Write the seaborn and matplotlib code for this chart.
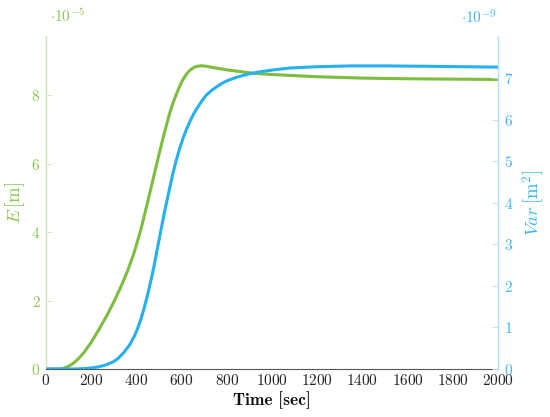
import matplotlib
matplotlib.use("Agg")
import matplotlib.pyplot as plt
import seaborn as sns
import numpy as np

# Data (E in units of 1e-5 m, Var in units of 1e-9 m^2)
t_E = [0, 60, 75, 90, 108, 125, 145, 170, 200, 233, 270, 300, 330, 360, 390, 420,
       448, 475, 500, 521, 545, 555, 565, 578, 590, 600, 609, 624, 640, 660, 683,
       705, 730, 765, 800, 860, 918, 1013, 1200, 1400, 1600, 1800, 2000]
E_vals = [0, 0, 0.015, 0.05, 0.11, 0.19, 0.31, 0.5, 0.78, 1.14, 1.57, 1.96, 2.38,
          2.85, 3.4, 4.08, 4.83, 5.58, 6.27, 6.83, 7.42, 7.64, 7.83, 8.05, 8.24,
          8.38, 8.49, 8.64, 8.75, 8.83, 8.86, 8.85, 8.82, 8.78, 8.74, 8.69, 8.64,
          8.6, 8.54, 8.5, 8.48, 8.47, 8.46]

t_V = [0, 120, 150, 175, 200, 225, 250, 275, 300, 320, 345, 370, 390, 405, 420,
       435, 450, 465, 477, 492, 507, 525, 545, 560, 575, 592, 609, 625, 640, 655,
       668, 690, 710, 735, 756, 785, 810, 835, 859, 900, 950, 1000, 1080, 1200,
       1350, 1500, 1700, 1850, 2000]
V_vals = [0, 0, 0.005, 0.012, 0.025, 0.045, 0.075, 0.12, 0.18, 0.26, 0.4, 0.58,
          0.78, 0.97, 1.2, 1.48, 1.8, 2.15, 2.45, 2.88, 3.3, 3.8, 4.3, 4.68, 5.0,
          5.32, 5.6, 5.82, 6.0, 6.16, 6.28, 6.46, 6.6, 6.72, 6.8, 6.9, 6.96, 7.01,
          7.05, 7.11, 7.16, 7.2, 7.25, 7.28, 7.3, 7.3, 7.29, 7.28, 7.27]

x_ticks = list(range(0, 2001, 200))
E_ticks = [0, 2, 4, 6, 8]
V_ticks = [0, 1, 2, 3, 4, 5, 6, 7]

green = "#7dbd3f"
green_light = "#cde3b5"
green_text = "#8cc653"
blue = "#25b0ee"
blue_light = "#b3e1f8"
blue_text = "#3bb8f0"

sns.set_theme(style="white")
plt.rcParams["font.family"] = ["cmr10", "DejaVu Serif"]
plt.rcParams["mathtext.fontset"] = "cm"
plt.rcParams["axes.formatter.use_mathtext"] = True

fig = plt.figure(figsize=(5.5, 4.17), dpi=100)
ax = fig.add_axes([46/550, 1 - 369/417, (498-46)/550, (369-36)/417])
ax2 = ax.twinx()

sns.lineplot(x=t_E, y=E_vals, ax=ax, color=green, linewidth=2.2, sort=False)
sns.lineplot(x=t_V, y=V_vals, ax=ax2, color=blue, linewidth=2.2, sort=False)

ax.set_xlim(0, 2000)
ax.set_ylim(0, 9.73)
ax2.set_ylim(0, 8.02)

ax.set_xticks(x_ticks)
ax.set_yticks(E_ticks)
ax2.set_yticks(V_ticks)

for a in (ax, ax2):
    for s in a.spines.values():
        s.set_visible(False)

ax.spines["left"].set_visible(True)
ax.spines["left"].set_color(green_light)
ax.spines["left"].set_linewidth(1.0)
ax.spines["bottom"].set_visible(True)
ax.spines["bottom"].set_color("#555555")
ax.spines["bottom"].set_linewidth(0.8)
ax2.spines["right"].set_visible(True)
ax2.spines["right"].set_color(blue_light)
ax2.spines["right"].set_linewidth(1.0)

ax.tick_params(axis="x", direction="in", length=4, width=0.6, color="#888888",
               labelsize=11, labelcolor="#222222", pad=3)
ax.tick_params(axis="y", direction="in", length=4, width=0.6, color=green_light,
               labelsize=11, labelcolor=green_text, pad=4)
ax2.tick_params(axis="y", direction="in", length=4, width=0.6, color=blue_light,
                labelsize=11, labelcolor=blue_text, pad=4)

ax.set_xlabel("Time [sec]", fontsize=12.5, fontfamily="cmb10", color="#111111", labelpad=2)
ax.set_ylabel(r"$E\,[\mathrm{m}]$", fontsize=13.5, color=green_text, labelpad=3)
ax2.set_ylabel(r"$Var\,[\mathrm{m}^2]$", fontsize=13.5, color=blue_text, labelpad=5,
               rotation=90)

fig.text(50/550, 1 - 16/417, r"$\cdot 10^{-5}$", fontsize=11, color=green_text,
         ha="left", va="center")
fig.text(496/550, 1 - 18/417, r"$\cdot 10^{-9}$", fontsize=11, color=blue_text,
         ha="right", va="center")

fig.savefig("out.png", dpi=100)
